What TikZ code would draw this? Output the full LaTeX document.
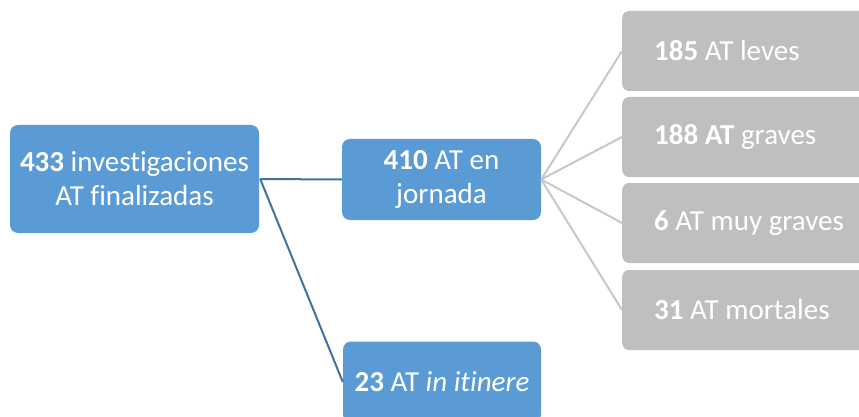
\documentclass[tikz,border=0pt]{standalone}
\usepackage{fontspec}
\setmainfont[Ligatures=NoCommon]{Carlito}
\definecolor{bluebox}{HTML}{5B9BD5}
\definecolor{blueline}{HTML}{41719C}
\definecolor{graybox}{HTML}{BFBFBF}
\definecolor{grayline}{HTML}{C8C8C8}
\newcommand{\gtext}[1]{\makebox[210pt][l]{#1}}
\begin{document}
\begin{tikzpicture}[x=1pt,y=-1pt,
  txt/.style={font=\fontsize{29}{34}\selectfont, text=white},
  bbox/.style={txt, fill=bluebox, rounded corners=8pt, inner sep=0pt, align=center},
  gbox/.style={txt, fill=graybox, rounded corners=7pt, inner ysep=0pt, inner xsep=32pt,
     minimum height=80pt},
  bconn/.style={draw=blueline, line width=2pt},
  gconn/.style={draw=grayline, line width=2pt}]
\useasboundingbox (0,0) rectangle (859,417);
\clip (0,0) rectangle (859,417);
\fill[white] (0,0) rectangle (859,417);
\node[bbox, minimum width=249pt, minimum height=108pt] (root) at (134.5,179)
  {\textbf{433} investigaciones\\AT finalizadas};
\node[bbox, minimum width=199pt, minimum height=81pt] (mid) at (441.5,179.5)
  {\textbf{410} AT en\\jornada};
\node[bbox, minimum width=198pt, minimum height=81pt] (bot) at (442,382)
  {\textbf{23} AT \textit{in itinere}};
\node[gbox, anchor=west] (g1) at (622,51) {\gtext{\textbf{185} AT leves}};
\node[gbox, anchor=west] (g2) at (622,137) {\gtext{\textbf{188 AT} graves}};
\node[gbox, anchor=west] (g3) at (622,223) {\gtext{\textbf{6} AT muy graves}};
\node[gbox, anchor=west] (g4) at (622,310) {\gtext{\textbf{31} AT mortales}};
\coordinate (rs) at ([xshift=1pt]root.east);
\draw[bconn] (rs) -- (mid.west);
\draw[bconn] (rs) -- (bot.west);
\foreach \g in {g1,g2,g3,g4} \draw[gconn] (mid.east) -- (\g.west);
\end{tikzpicture}
\end{document}
